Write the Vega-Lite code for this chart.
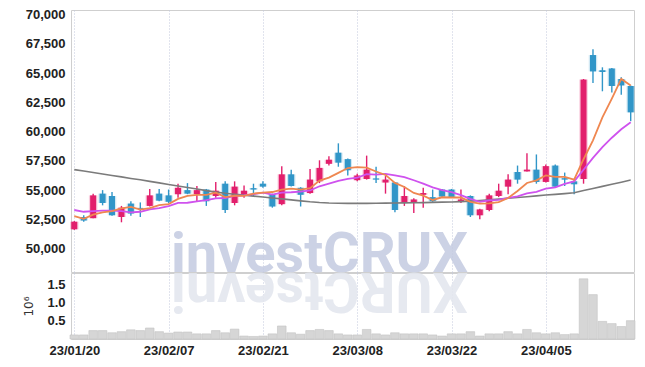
{
  "$schema": "https://vega.github.io/schema/vega-lite/v6.json",
  "background": "white",
  "padding": {"left": 22, "top": 8, "right": 10, "bottom": 5},
  "spacing": 1,
  "bounds": "flush",
  "datasets": {
    "px": [
      {"d":"23/01/20","o":51650,"h":52350,"l":51600,"c":52300,"v":110000,"ma5":52780,"ma10":53300,"ma60":56750},
      {"d":"23/01/25","o":52700,"h":52850,"l":52300,"c":52400,"v":110000,"ma5":52550,"ma10":53150,"ma60":56630},
      {"d":"23/01/26","o":52600,"h":54700,"l":52600,"c":54550,"v":230000,"ma5":52900,"ma10":53200,"ma60":56500},
      {"d":"23/01/27","o":54700,"h":55000,"l":53700,"c":53900,"v":230000,"ma5":53100,"ma10":53250,"ma60":56380},
      {"d":"23/01/30","o":54500,"h":54850,"l":52800,"c":52850,"v":170000,"ma5":53200,"ma10":53250,"ma60":56250},
      {"d":"23/01/31","o":52700,"h":53650,"l":52250,"c":53500,"v":200000,"ma5":53440,"ma10":53200,"ma60":56130},
      {"d":"23/02/01","o":53850,"h":54050,"l":52800,"c":53000,"v":250000,"ma5":53560,"ma10":53100,"ma60":56000},
      {"d":"23/02/02","o":53480,"h":53950,"l":52700,"c":53400,"v":230000,"ma5":53330,"ma10":53150,"ma60":55880},
      {"d":"23/02/03","o":53650,"h":55100,"l":53600,"c":54550,"v":300000,"ma5":53460,"ma10":53350,"ma60":55750},
      {"d":"23/02/06","o":54700,"h":55100,"l":54050,"c":54100,"v":200000,"ma5":53710,"ma10":53455,"ma60":55620},
      {"d":"23/02/07","o":54550,"h":55050,"l":53900,"c":54000,"v":160000,"ma5":53810,"ma10":53625,"ma60":55480},
      {"d":"23/02/08","o":54650,"h":55550,"l":54350,"c":55200,"v":190000,"ma5":54250,"ma10":53905,"ma60":55350},
      {"d":"23/02/09","o":55000,"h":55600,"l":54650,"c":54700,"v":190000,"ma5":54510,"ma10":53920,"ma60":55220},
      {"d":"23/02/10","o":54650,"h":55350,"l":54050,"c":55000,"v":140000,"ma5":54600,"ma10":54030,"ma60":55090},
      {"d":"23/02/13","o":55050,"h":55100,"l":53650,"c":54050,"v":140000,"ma5":54590,"ma10":54150,"ma60":54960},
      {"d":"23/02/14","o":54500,"h":55700,"l":54350,"c":54950,"v":230000,"ma5":54780,"ma10":54295,"ma60":54830},
      {"d":"23/02/15","o":55550,"h":55750,"l":53050,"c":53300,"v":170000,"ma5":54400,"ma10":54325,"ma60":54730},
      {"d":"23/02/16","o":53900,"h":55750,"l":53700,"c":55300,"v":270000,"ma5":54520,"ma10":54515,"ma60":54650},
      {"d":"23/02/17","o":54600,"h":55400,"l":54350,"c":54950,"v":80000,"ma5":54510,"ma10":54555,"ma60":54570},
      {"d":"23/02/20","o":55170,"h":55550,"l":54500,"c":55050,"v":70000,"ma5":54710,"ma10":54650,"ma60":54490},
      {"d":"23/02/21","o":55550,"h":55750,"l":55200,"c":55300,"v":80000,"ma5":54780,"ma10":54780,"ma60":54410},
      {"d":"23/02/22","o":54650,"h":54700,"l":53500,"c":53600,"v":140000,"ma5":54840,"ma10":54620,"ma60":54330},
      {"d":"23/02/23","o":53800,"h":57050,"l":53700,"c":56350,"v":355000,"ma5":55050,"ma10":54785,"ma60":54250},
      {"d":"23/02/24","o":56350,"h":56750,"l":55300,"c":55350,"v":170000,"ma5":55130,"ma10":54820,"ma60":54170},
      {"d":"23/02/27","o":55200,"h":55250,"l":53600,"c":54600,"v":130000,"ma5":55040,"ma10":54875,"ma60":54080},
      {"d":"23/02/28","o":54750,"h":56800,"l":54700,"c":55900,"v":230000,"ma5":55160,"ma10":54970,"ma60":54000},
      {"d":"23/03/02","o":55750,"h":57550,"l":55600,"c":56900,"v":260000,"ma5":55820,"ma10":55330,"ma60":53940},
      {"d":"23/03/03","o":57250,"h":57900,"l":57100,"c":57600,"v":230000,"ma5":56070,"ma10":55560,"ma60":53900},
      {"d":"23/03/06","o":58200,"h":59000,"l":57000,"c":57350,"v":140000,"ma5":56470,"ma10":55800,"ma60":53880},
      {"d":"23/03/07","o":57650,"h":57700,"l":56250,"c":56700,"v":110000,"ma5":56890,"ma10":55965,"ma60":53870},
      {"d":"23/03/08","o":55850,"h":56400,"l":55750,"c":56250,"v":110000,"ma5":56960,"ma10":56060,"ma60":53865},
      {"d":"23/03/09","o":55950,"h":57950,"l":55900,"c":56750,"v":260000,"ma5":56930,"ma10":56375,"ma60":53870},
      {"d":"23/03/10","o":56000,"h":57000,"l":55600,"c":55900,"v":140000,"ma5":56590,"ma10":56330,"ma60":53880},
      {"d":"23/03/13","o":55650,"h":56200,"l":54700,"c":55900,"v":110000,"ma5":56300,"ma10":56385,"ma60":53890},
      {"d":"23/03/14","o":55650,"h":55700,"l":53100,"c":53300,"v":170000,"ma5":55620,"ma10":56255,"ma60":53900},
      {"d":"23/03/15","o":53900,"h":55350,"l":53650,"c":54500,"v":140000,"ma5":55270,"ma10":56115,"ma60":53910},
      {"d":"23/03/16","o":53900,"h":54300,"l":53050,"c":54200,"v":140000,"ma5":54760,"ma10":55845,"ma60":53920},
      {"d":"23/03/17","o":54600,"h":55200,"l":53500,"c":54750,"v":140000,"ma5":54530,"ma10":55560,"ma60":53930},
      {"d":"23/03/20","o":54400,"h":55050,"l":54000,"c":54050,"v":110000,"ma5":54160,"ma10":55230,"ma60":53950},
      {"d":"23/03/21","o":55050,"h":55100,"l":54350,"c":54450,"v":80000,"ma5":54390,"ma10":55005,"ma60":53970},
      {"d":"23/03/22","o":55050,"h":55100,"l":54350,"c":54400,"v":140000,"ma5":54370,"ma10":54820,"ma60":53990},
      {"d":"23/03/23","o":54050,"h":55050,"l":53900,"c":54200,"v":140000,"ma5":54370,"ma10":54565,"ma60":54020},
      {"d":"23/03/24","o":54500,"h":54550,"l":52700,"c":52850,"v":200000,"ma5":53990,"ma10":54260,"ma60":54060},
      {"d":"23/03/27","o":52850,"h":53400,"l":52500,"c":53350,"v":80000,"ma5":53850,"ma10":54005,"ma60":54110},
      {"d":"23/03/28","o":53300,"h":54700,"l":53200,"c":54550,"v":140000,"ma5":53870,"ma10":54130,"ma60":54170},
      {"d":"23/03/29","o":54500,"h":55550,"l":54400,"c":54950,"v":140000,"ma5":53980,"ma10":54175,"ma60":54230},
      {"d":"23/03/30","o":55300,"h":56350,"l":54650,"c":55900,"v":200000,"ma5":54320,"ma10":54345,"ma60":54300},
      {"d":"23/03/31","o":56550,"h":57100,"l":55550,"c":55900,"v":140000,"ma5":54930,"ma10":54460,"ma60":54370},
      {"d":"23/04/03","o":56600,"h":58150,"l":56600,"c":56750,"v":260000,"ma5":55610,"ma10":54730,"ma60":54440},
      {"d":"23/04/04","o":56750,"h":58050,"l":55550,"c":55700,"v":170000,"ma5":55840,"ma10":54855,"ma60":54510},
      {"d":"23/04/05","o":55700,"h":57200,"l":55650,"c":57050,"v":140000,"ma5":56260,"ma10":55120,"ma60":54580},
      {"d":"23/04/06","o":57100,"h":57200,"l":55200,"c":55300,"v":170000,"ma5":56140,"ma10":55230,"ma60":54640},
      {"d":"23/04/07","o":56020,"h":56500,"l":55350,"c":55900,"v":120000,"ma5":56140,"ma10":55535,"ma60":54700},
      {"d":"23/04/10","o":55750,"h":55900,"l":54650,"c":55500,"v":140000,"ma5":55890,"ma10":55750,"ma60":54770},
      {"d":"23/04/11","o":55950,"h":64500,"l":55550,"c":64450,"v":1640000,"ma5":57640,"ma10":56740,"ma60":54960},
      {"d":"23/04/12","o":66550,"h":67050,"l":64150,"c":65150,"v":1210000,"ma5":59260,"ma10":57760,"ma60":55140},
      {"d":"23/04/13","o":65250,"h":65500,"l":63450,"c":65100,"v":480000,"ma5":61220,"ma10":58680,"ma60":55320},
      {"d":"23/04/14","o":65400,"h":65450,"l":63350,"c":63900,"v":420000,"ma5":62820,"ma10":59480,"ma60":55500},
      {"d":"23/04/17","o":64500,"h":64650,"l":63150,"c":63950,"v":340000,"ma5":64510,"ma10":60200,"ma60":55680},
      {"d":"23/04/18","o":63900,"h":63950,"l":60900,"c":61650,"v":500000,"ma5":63950,"ma10":60795,"ma60":55860}
    ],
    "wm": [{"t":"investCRUX","r":"XURCtsevni"}]
  },
  "vconcat": [
    {
      "width": 563,
      "height": 262,
      "data": {"name": "px"},
      "encoding": {
        "x": {"field": "d", "type": "ordinal", "sort": "ascending",
          "scale": {"type": "point", "padding": 0.35},
          "axis": {"values": ["23/01/20","23/02/07","23/02/21","23/03/08","23/03/22","23/04/05"],
                   "labels": false, "ticks": false, "domain": false, "title": null, "grid": true}}
      },
      "layer": [
        {
          "data": {"name": "wm"},
          "mark": {"type": "text", "font": "Roboto", "fontWeight": "bold", "fontSize": 56, "fill": "#c4cbe1", "opacity": 0.85, "align": "center", "baseline": "alphabetic"},
          "encoding": {"text": {"field": "t"}, "x": {"datum": "23/03/02"},
            "y": {"datum": 48000, "type": "quantitative",
              "scale": {"domain": [48000, 70400], "nice": false, "zero": false},
              "axis": {"values": [50000,52500,55000,57500,60000,62500,65000,67500,70000], "tickCount": 20, "labelExpr": "format(datum.value, ',')", "title": null, "labelPadding": 6, "labelOverlap": false}}}
        },
        {
          "mark": {"type": "rule", "strokeWidth": 1.4},
          "encoding": {
            "y": {"field": "l", "type": "quantitative",
              "axis": {"values": [50000,52500,55000,57500,60000,62500,65000,67500,70000], "tickCount": 20, "labelExpr": "format(datum.value, ',')", "title": null, "labelPadding": 6, "labelOverlap": false}},
            "y2": {"field": "h"},
            "color": {"condition": {"test": "datum.c >= datum.o", "value": "#e21f6c"}, "value": "#3196c8"}
          }
        },
        {
          "mark": {"type": "rule", "strokeWidth": 8.5, "strokeCap": "butt", "opacity": 0.22},
          "encoding": {
            "y": {"field": "o", "type": "quantitative"},
            "y2": {"field": "c"},
            "color": {"condition": {"test": "datum.c >= datum.o", "value": "#e21f6c"}, "value": "#3196c8"}
          }
        },
        {
          "mark": {"type": "rule", "strokeWidth": 6, "strokeCap": "butt"},
          "encoding": {
            "y": {"field": "o", "type": "quantitative"},
            "y2": {"field": "c"},
            "color": {"condition": {"test": "datum.c >= datum.o", "value": "#e21f6c"}, "value": "#3196c8"}
          }
        },
        {
          "mark": {"type": "line", "strokeWidth": 1.6, "color": "#7b7b7b"},
          "encoding": {"y": {"field": "ma60", "type": "quantitative"}}
        },
        {
          "mark": {"type": "line", "strokeWidth": 1.8, "color": "#cf52ee"},
          "encoding": {"y": {"field": "ma10", "type": "quantitative"}}
        },
        {
          "mark": {"type": "line", "strokeWidth": 1.8, "color": "#ef8750"},
          "encoding": {"y": {"field": "ma5", "type": "quantitative"}}
        }
      ]
    },
    {
      "width": 563,
      "height": 66,
      "data": {"name": "px"},
      "encoding": {
        "x": {"field": "d", "type": "ordinal", "sort": "ascending",
          "scale": {"type": "point", "padding": 0.35},
          "axis": {"values": ["23/01/20","23/02/07","23/02/21","23/03/08","23/03/22","23/04/05"],
                   "labelAngle": 0, "ticks": false, "domain": false, "title": null, "grid": true, "labelPadding": 5, "labelOverlap": false}}
      },
      "layer": [
        {
          "data": {"name": "wm"},
          "mark": {"type": "text", "font": "Roboto", "fontWeight": "bold", "fontSize": 56, "fill": "#e4e7ef", "opacity": 0.9, "align": "center", "baseline": "alphabetic", "angle": 180},
          "encoding": {"text": {"field": "r"}, "x": {"datum": "23/03/02"},
            "y": {"datum": 1800000, "type": "quantitative",
              "scale": {"domain": [0, 1800000], "nice": false},
              "axis": {"values": [500000, 1000000, 1500000], "tickCount": 20, "labelExpr": "format(datum.value/1000000, '.1f')", "labelOverlap": false,
                       "title": "10⁶", "titleFont": "DejaVu Sans", "titleFontWeight": "normal", "titleFontSize": 12, "titleColor": "#333", "labelPadding": 6, "titlePadding": 11}}}
        },
        {
          "mark": {"type": "bar", "size": 8.6, "fill": "#d6d6d6", "stroke": "#c2c2c2", "strokeWidth": 0.6},
          "encoding": {
            "y": {"field": "v", "type": "quantitative",
              "axis": {"values": [500000, 1000000, 1500000], "tickCount": 20, "labelExpr": "format(datum.value/1000000, '.1f')", "labelOverlap": false,
                       "title": "10⁶", "titleFont": "DejaVu Sans", "titleFontWeight": "normal", "titleFontSize": 12, "titleColor": "#333", "labelPadding": 6, "titlePadding": 11}}
          }
        }
      ]
    }
  ],
  "config": {
    "view": {"stroke": "#cfcfcf", "strokeWidth": 1},
    "axis": {
      "labelFont": "Liberation Sans",
      "labelFontWeight": "bold",
      "labelFontSize": 13,
      "labelColor": "#222222",
      "gridColor": "#c3c9dc",
      "gridDash": [1, 2],
      "gridWidth": 1,
      "ticks": false,
      "domain": false,
      "labelOverlap": false
    }
  }
}
